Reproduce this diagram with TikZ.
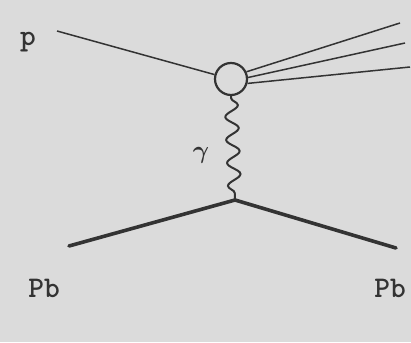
\documentclass[tikz,border=0pt]{standalone}
\usetikzlibrary{decorations.pathmorphing}
\definecolor{bg}{gray}{0.86}
\definecolor{ink}{gray}{0.2}
\tikzset{
  thinline/.style={draw=ink, line width=1.5pt},
  heavyline/.style={draw=ink, line width=3.6pt, line cap=round},
  photon/.style={draw=ink, line width=2pt, decorate,
    decoration={snake, amplitude=6.5pt, segment length=23pt, pre length=2pt, post length=2pt}},
  lab/.style={inner sep=0pt, text=ink, font=\ttfamily\bfseries\fontsize{30}{30}\selectfont},
  glabstyle/.style={inner sep=0pt, text=ink, font=\boldmath\fontsize{24}{24}\selectfont},
  blobstyle/.style={circle, draw=ink, line width=2.2pt, minimum size=32pt, inner sep=0pt}
}
\begin{document}
\begin{tikzpicture}[x=1pt, y=-1pt]
  \fill[bg] (0,0) rectangle (411,342);
  \useasboundingbox (0,0) rectangle (411,342);
  \node[blobstyle] (blob) at (231,79) {};
  \coordinate (pin) at (57,31);
  \coordinate (out1) at (400,23);
  \coordinate (out2) at (405,43);
  \coordinate (out3) at (410,67);
  \coordinate (v) at (235,200);
  \coordinate (pbl) at (69,246);
  \coordinate (pbr) at (396,248);
  \draw[thinline] (pin) -- (blob.165);
  \draw[thinline] (blob.25) -- (out1);
  \draw[thinline] (blob.5) -- (out2);
  \draw[thinline] (blob.-15) -- (out3);
  \draw[photon] (blob.south) -- (v);
  \draw[heavyline] (pbl) -- (v) -- (pbr);
  \node[lab] (plab) at (28,42) {p};
  \node[lab] (pbllab) at (44,288) {Pb};
  \node[lab] (pbrlab) at (390,288) {Pb};
  \node[glabstyle] (glab) at (201,155) {$\gamma$};
\end{tikzpicture}
\end{document}
